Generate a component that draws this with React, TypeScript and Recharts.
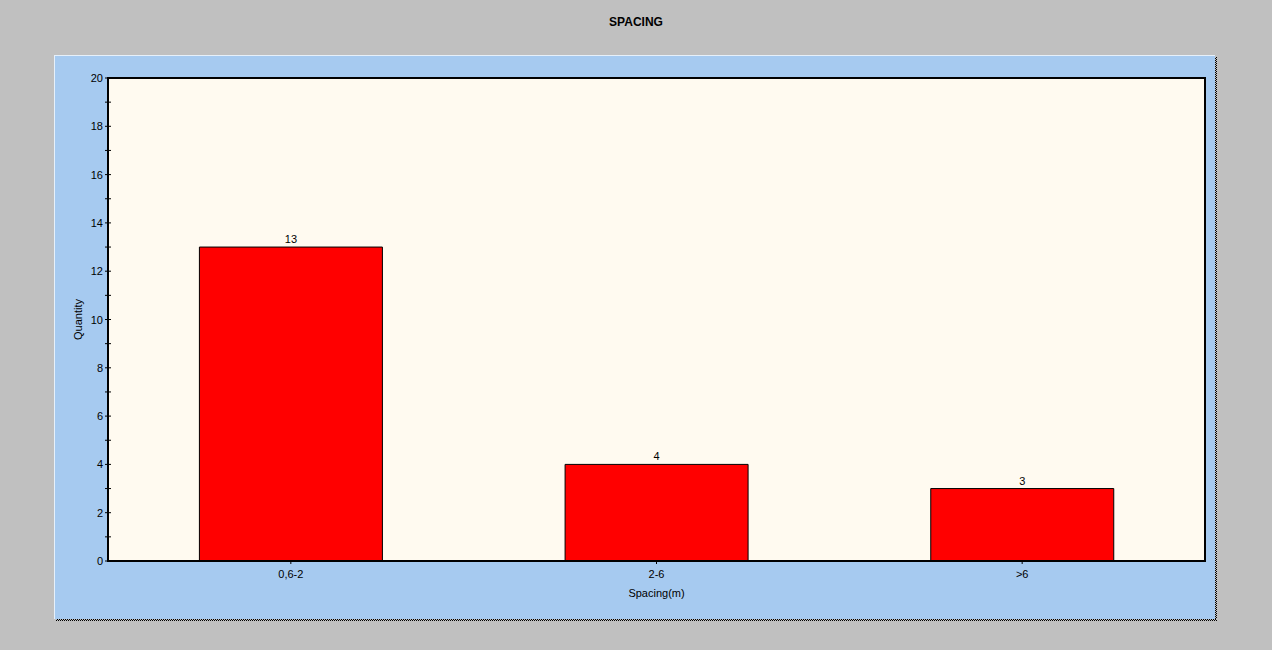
import { BarChart, Bar, XAxis, YAxis, CartesianGrid, LabelList } from 'recharts';

const categories = ['0,6-2', '2-6', '>6'];
const quantities = [13, 4, 3];
const yTicks = [0, 1, 2, 3, 4, 5, 6, 7, 8, 9, 10, 11, 12, 13, 14, 15, 16, 17, 18, 19, 20];

const data = categories.map((name, i) => ({ name, qty: quantities[i] }));

const FONT = 'Arial, "Liberation Sans", sans-serif';
const CHECKER = 'repeating-conic-gradient(#000 0 25%, #c0c0c0 0 50%) 0 0 / 2px 2px';

// y tick: a short mark crossing the axis, label only on even values
function YTick(props: any) {
  const { x, y, payload } = props;
  const axisX = x + 5;
  const v = payload.value;
  return (
    <g>
      <line x1={axisX - 3} x2={axisX + 3} y1={y} y2={y} stroke="#000" strokeWidth={1} />
      {v % 2 === 0 && (
        <text x={x} y={y} dy={4} textAnchor="end" fontSize={11} fontFamily={FONT} fill="#000">
          {v}
        </text>
      )}
    </g>
  );
}

export default function App() {
  return (
    <div
      style={{
        position: 'fixed',
        left: 0,
        top: 0,
        width: 1272,
        height: 650,
        background: '#c0c0c0',
        fontFamily: FONT,
      }}
    >
      <div
        style={{
          position: 'absolute',
          top: 15,
          left: 0,
          width: 1272,
          textAlign: 'center',
          fontWeight: 'bold',
          fontSize: 12,
          color: '#000',
        }}
      >
        SPACING
      </div>
      <div
        style={{
          position: 'absolute',
          left: 54,
          top: 55,
          width: 1161,
          height: 564,
          boxSizing: 'border-box',
          background: '#a6caf0',
          borderLeft: '1px solid #e6f0fa',
          borderTop: '1px solid #e6f0fa',
        }}
      />
      <div style={{ position: 'absolute', left: 1215, top: 57, width: 2, height: 564, background: CHECKER }} />
      <div style={{ position: 'absolute', left: 56, top: 619, width: 1161, height: 2, background: CHECKER }} />
      <div style={{ position: 'absolute', left: 54, top: 55 }}>
        <BarChart
          width={1163}
          height={566}
          data={data}
          margin={{ top: 23, right: 12, left: 24, bottom: 20 }}
          barCategoryGap="25%"
        >
          <CartesianGrid horizontal={false} vertical={false} fill="#fffaf0" fillOpacity={1} />
          <XAxis
            dataKey="name"
            height={40}
            axisLine={{ stroke: '#000', strokeWidth: 2 }}
            tickLine={{ stroke: '#000' }}
            tickSize={3}
            tickMargin={6}
            tick={{ fill: '#000', fontSize: 11, fontFamily: FONT }}
            label={{
              value: 'Spacing(m)',
              position: 'insideBottom',
              offset: 4,
              fill: '#000',
              fontSize: 11,
              fontFamily: FONT,
            }}
          />
          <YAxis
            width={30}
            domain={[0, 20]}
            ticks={yTicks}
            interval={0}
            tickSize={3}
            tickMargin={2}
            tickLine={false}
            axisLine={{ stroke: '#000', strokeWidth: 2 }}
            tick={<YTick />}
            label={{
              value: 'Quantity',
              angle: -90,
              position: 'insideLeft',
              offset: 0,
              fill: '#000',
              fontSize: 11,
              fontFamily: FONT,
              style: { textAnchor: 'middle' },
            }}
          />
          <Bar dataKey="qty" fill="#ff0000" stroke="#000" strokeWidth={1} isAnimationActive={false}>
            <LabelList
              dataKey="qty"
              position="top"
              offset={4}
              fill="#000"
              fontSize={11}
              fontFamily={FONT}
            />
          </Bar>
        </BarChart>
      </div>
      {/* plot frame */}
      <div
        style={{
          position: 'absolute',
          left: 107,
          top: 77,
          width: 1099,
          height: 485,
          boxSizing: 'border-box',
          border: '2px solid #000',
          pointerEvents: 'none',
        }}
      />
    </div>
  );
}
